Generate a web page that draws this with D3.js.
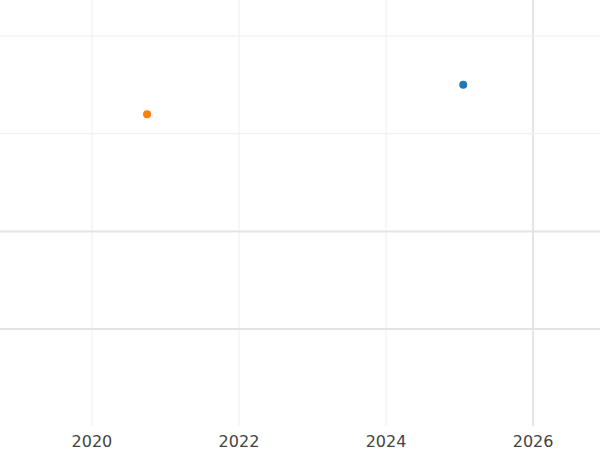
<!DOCTYPE html>
<html>
<head>
<script src="https://d3js.org/d3.v7.min.js"></script>
<style>
  body { margin: 0; background: #fff; }
  text { font-family: 'DejaVu Sans'; font-size: 16px; fill: #444; }
</style>
</head>
<body>
<script>
// data
var xs = [2025.05, 2020.75];
var ys = [3.5, 3.2];
var colors = ["#1f77b4", "#ff7f0e"];
var xTicks = [2020, 2022, 2024, 2026];
var yTicks = [1, 2, 3, 4];

var w = 600, h = 450;
var svg = d3.select("body").append("svg").attr("width", w).attr("height", h);

var x = d3.scaleLinear().domain([2018.75, 2026.91]).range([0, w]);
var y = d3.scaleLinear().domain([4.368, -0.237]).range([0, h]);

svg.selectAll(".vg").data(xTicks).enter().append("line")
  .attr("x1", d => x(d)).attr("x2", d => x(d))
  .attr("y1", 0).attr("y2", 426)
  .attr("stroke", d => d == 2026 ? "#e4e4e4" : "#eeeeee").attr("stroke-width", d => d == 2026 ? 2 : 1);

svg.selectAll(".hg").data(yTicks).enter().append("line")
  .attr("x1", 0).attr("x2", w)
  .attr("y1", d => y(d)).attr("y2", d => y(d))
  .attr("stroke", d => d <= 2 ? "#e4e4e4" : "#eeeeee").attr("stroke-width", d => d <= 2 ? 2 : 1);

svg.selectAll(".xl").data(xTicks).enter().append("text")
  .attr("x", d => x(d)).attr("y", 447)
  .attr("text-anchor", "middle").text(d => d);

svg.selectAll("circle").data(xs).enter().append("circle")
  .attr("cx", d => x(d)).attr("cy", (d, i) => y(ys[i]))
  .attr("r", 4).attr("fill", (d, i) => colors[i]);
</script>
</body>
</html>
